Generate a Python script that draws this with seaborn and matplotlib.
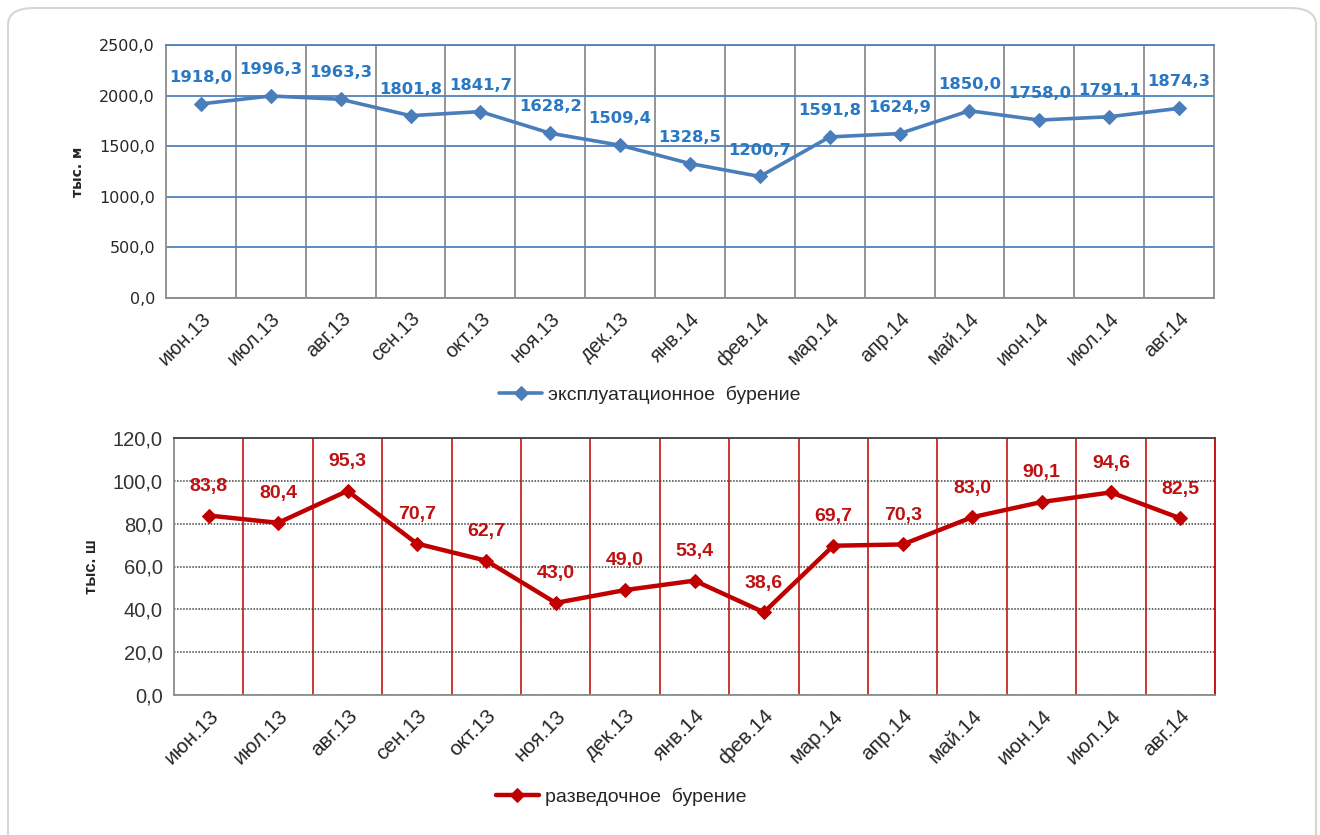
import matplotlib
matplotlib.use("Agg")
import matplotlib.pyplot as plt
import seaborn as sns
import pandas as pd
from matplotlib.patches import FancyBboxPatch
from matplotlib.ticker import FuncFormatter, FixedLocator

months = ["июн.13", "июл.13", "авг.13", "сен.13", "окт.13", "ноя.13", "дек.13", "янв.14",
          "фев.14", "мар.14", "апр.14", "май.14", "июн.14", "июл.14", "авг.14"]
exploit = [1918.0, 1996.3, 1963.3, 1801.8, 1841.7, 1628.2, 1509.4, 1328.5,
           1200.7, 1591.8, 1624.9, 1850.0, 1758.0, 1791.1, 1874.3]
explor = [83.8, 80.4, 95.3, 70.7, 62.7, 43.0, 49.0, 53.4,
          38.6, 69.7, 70.3, 83.0, 90.1, 94.6, 82.5]
top_label = "эксплуатационное  бурение"
bot_label = "разведочное  бурение"
top_ylabel = "тыс. м"
bot_ylabel = "тыс. ш"

sns.set_style("white")
plt.rcParams['font.family'] = ['Liberation Sans', 'DejaVu Sans']

df = pd.DataFrame({"idx": range(len(months)), "month": months,
                   "exploit": exploit, "explor": explor})

fig = plt.figure(figsize=(13.2, 8.35), dpi=100)
card = FancyBboxPatch((8 / 1320, -0.05), (1316 - 8) / 1320, 1 - 8 / 835 + 0.05,
                      boxstyle="round,pad=0,rounding_size=0.02", transform=fig.transFigure,
                      facecolor="white", edgecolor="#d6d6d6", linewidth=1.5, zorder=-10)
fig.patches.append(card)

ax1 = fig.add_axes([166 / 1320, 1 - 298 / 835, (1214 - 166) / 1320, (298 - 45) / 835])
ax2 = fig.add_axes([174 / 1320, 1 - 695 / 835, (1215 - 174) / 1320, (695 - 438) / 835])

fmt = lambda v: f"{v:.1f}".replace(".", ",")

blue_line = "#4a7ebb"
blue_text = "#2b78c2"
red_line = "#c00000"
red_text = "#c01010"

# ---- Top chart
sns.lineplot(data=df, x="idx", y="exploit", ax=ax1, color=blue_line, lw=2.6,
             marker="D", markersize=7, markeredgecolor=blue_line, sort=False,
             label=top_label, legend=False)
ax1.set_xlim(-0.5, len(months) - 0.5)
ax1.set_ylim(0, 2500)
ax1.set_yticks(range(0, 2501, 500))
ax1.yaxis.set_major_formatter(FuncFormatter(lambda v, p: fmt(v)))
ax1.set_xticks(range(len(months)))
ax1.set_xticklabels(months, rotation=45, ha="right", rotation_mode="anchor",
                    fontsize=14.5, color="#262626")
ax1.xaxis.set_minor_locator(FixedLocator([i + 0.5 for i in range(len(months) - 1)]))
ax1.grid(False)
ax1.grid(True, which="major", axis="y", color="#4f81bd", lw=1.3)
ax1.grid(True, which="minor", axis="x", color="#8c8c8c", lw=1.3)
for lbl in ax1.get_yticklabels():
    lbl.set_fontfamily("DejaVu Sans")
    lbl.set_fontsize(11.5)
    lbl.set_color("#262626")
ax1.tick_params(axis="both", which="both", length=0, pad=8)
for s in ax1.spines.values():
    s.set_color("#8c8c8c")
    s.set_linewidth(1.3)
ax1.spines["top"].set_color("#4f81bd")
ax1.set_xlabel("")
ax1.set_ylabel(top_ylabel, fontsize=10, fontweight="bold", labelpad=10, family="DejaVu Sans")
for i, v in enumerate(exploit):
    ax1.annotate(fmt(v), (i, v), xytext=(0, 19), textcoords="offset points",
                 ha="center", va="center", fontsize=11.8, fontweight="bold",
                 color=blue_text, family="DejaVu Sans")
h1, l1 = ax1.get_legend_handles_labels()
fig.legend(h1, l1, loc="center", bbox_to_anchor=(650 / 1320, 1 - 395 / 835), frameon=False,
           fontsize=14, handlelength=2.2, handletextpad=0.3)

# ---- Bottom chart
sns.lineplot(data=df, x="idx", y="explor", ax=ax2, color=red_line, lw=3.2,
             marker="D", markersize=7.5, markeredgecolor=red_line, sort=False,
             label=bot_label, legend=False)
ax2.set_xlim(-0.5, len(months) - 0.5)
ax2.set_ylim(0, 120)
ax2.set_yticks(range(0, 121, 20))
ax2.yaxis.set_major_formatter(FuncFormatter(lambda v, p: fmt(v)))
ax2.set_xticks(range(len(months)))
ax2.set_xticklabels(months, rotation=45, ha="right", rotation_mode="anchor",
                    fontsize=15, color="#262626")
ax2.xaxis.set_minor_locator(FixedLocator([i + 0.5 for i in range(len(months) - 1)]))
ax2.grid(False)
ax2.grid(True, which="major", axis="y", color="#404040", lw=1.1, linestyle=(0, (1, 1)))
ax2.grid(True, which="minor", axis="x", color="#c00000", lw=1.1)
for lbl in ax2.get_yticklabels():
    lbl.set_fontsize(14.5)
    lbl.set_color("#333333")
ax2.tick_params(axis="both", which="both", length=0, pad=8)
for s in ax2.spines.values():
    s.set_color("#8c8c8c")
    s.set_linewidth(1.3)
ax2.spines["right"].set_color("#c00000")
ax2.spines["top"].set_linestyle((0, (1, 1)))
ax2.spines["top"].set_color("#404040")
ax2.set_xlabel("")
ax2.set_ylabel(bot_ylabel, fontsize=12, fontweight="bold", labelpad=10)
for i, v in enumerate(explor):
    ax2.annotate(fmt(v), (i, v), xytext=(0, 21), textcoords="offset points",
                 ha="center", va="center", fontsize=14, fontweight="bold",
                 color=red_text)
h2, l2 = ax2.get_legend_handles_labels()
fig.legend(h2, l2, loc="center", bbox_to_anchor=(621 / 1320, 1 - 797 / 835), frameon=False,
           fontsize=14, handlelength=2.2, handletextpad=0.3)

fig.savefig("out.png", dpi=100)
